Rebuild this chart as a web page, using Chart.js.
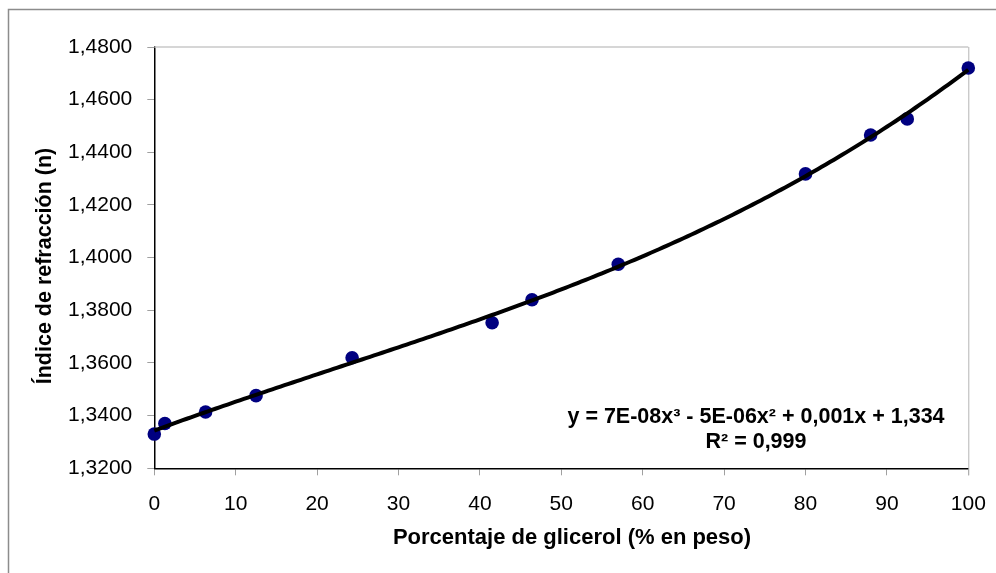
<!DOCTYPE html>
<html>
<head>
<meta charset="utf-8">
<script src="https://cdn.jsdelivr.net/npm/chart.js@4"></script>
<style>
  html, body { margin: 0; padding: 0; background: #fff; }
  #wrap { position: relative; width: 996px; height: 573px; }
</style>
</head>
<body>
<div id="wrap"><canvas id="c" width="996" height="573"></canvas></div>
<script>
// Glycerol content (% by weight) and measured refractive index
const glicerol = [0, 1.3, 6.3, 12.5, 24.3, 41.5, 46.4, 57.0, 80.0, 88.0, 92.5, 100];
const indice   = [1.3330, 1.3370, 1.3414, 1.3476, 1.3620, 1.3753, 1.3840, 1.3975, 1.4318, 1.4466, 1.4527, 1.4720];

const xTicks = [0, 10, 20, 30, 40, 50, 60, 70, 80, 90, 100];
const yTicks = [1.32, 1.34, 1.36, 1.38, 1.40, 1.42, 1.44, 1.46, 1.48];

const xTitle = 'Porcentaje de glicerol (% en peso)';
const yTitle = 'Índice de refracción (n)';
const ecuacion = ['y = 7E-08x³ - 5E-06x² + 0,001x + 1,334', 'R² = 0,999'];

// Least-squares cubic trendline through the measured points
function polyFit(xs, ys, deg) {
  const n = deg + 1;
  const A = Array.from({length: n}, () => new Array(n + 1).fill(0));
  for (let k = 0; k < xs.length; k++) {
    for (let i = 0; i < n; i++) {
      for (let j = 0; j < n; j++) A[i][j] += Math.pow(xs[k], i + j);
      A[i][n] += ys[k] * Math.pow(xs[k], i);
    }
  }
  for (let i = 0; i < n; i++) {
    let p = i;
    for (let r = i + 1; r < n; r++) if (Math.abs(A[r][i]) > Math.abs(A[p][i])) p = r;
    [A[i], A[p]] = [A[p], A[i]];
    for (let r = 0; r < n; r++) {
      if (r === i) continue;
      const f = A[r][i] / A[i][i];
      for (let c = i; c <= n; c++) A[r][c] -= f * A[i][c];
    }
  }
  return A.map((row, i) => row[n] / row[i]);
}
const coef = polyFit(glicerol, indice, 3);
const tendencia = [];
for (let x = 0; x <= 100; x += 0.5) {
  tendencia.push({x, y: coef[0] + coef[1] * x + coef[2] * x * x + coef[3] * x * x * x});
}

const FONT = "'Liberation Sans', Arial, sans-serif";

const extras = {
  id: 'extras',
  beforeDraw(chart) {
    const {ctx} = chart;
    ctx.save();
    ctx.strokeStyle = '#8c8c8c';
    ctx.lineWidth = 1.5;
    ctx.beginPath();
    ctx.moveTo(8.5, 573);
    ctx.lineTo(8.5, 9.5);
    ctx.lineTo(996, 9.5);
    ctx.stroke();
    ctx.restore();
  },
  beforeDatasetsDraw(chart) {
    const {ctx, chartArea: a} = chart;
    ctx.save();
    // upper and right edges of the plot area
    ctx.strokeStyle = '#c8c8c8';
    ctx.lineWidth = 1.5;
    ctx.beginPath();
    ctx.moveTo(a.left, a.top);
    ctx.lineTo(a.right, a.top);
    ctx.stroke();
    ctx.strokeStyle = '#b4b4b4';
    ctx.lineWidth = 1;
    ctx.beginPath();
    ctx.moveTo(a.right + 0.5, a.top);
    ctx.lineTo(a.right + 0.5, a.bottom + 7);
    ctx.stroke();
    ctx.restore();
  },
  afterDatasetsDraw(chart) {
    const {ctx} = chart;
    ctx.save();
    ctx.fillStyle = '#000';
    ctx.textAlign = 'center';
    ctx.textBaseline = 'middle';
    ctx.font = 'bold 22px ' + FONT;
    ctx.fillText(xTitle, 572, 538);
    ctx.save();
    ctx.translate(45, 266);
    ctx.rotate(-Math.PI / 2);
    ctx.font = 'bold 21.5px ' + FONT;
    ctx.fillText(yTitle, 0, 0);
    ctx.restore();

    ctx.font = 'bold 21.5px ' + FONT;
    ctx.fillText(ecuacion[0], 756, 417);
    ctx.fillText(ecuacion[1], 756, 442);
    ctx.restore();
  }
};

new Chart(document.getElementById('c'), {
  type: 'scatter',
  data: {
    datasets: [
      {
        label: 'Tendencia',
        data: tendencia,
        showLine: true,
        borderColor: '#000',
        borderWidth: 4,
        pointRadius: 0,
        fill: false,
        clip: false,
        order: 0
      },
      {
        label: 'Índice de refracción',
        data: glicerol.map((x, i) => ({x, y: indice[i]})),
        backgroundColor: '#000080',
        borderColor: '#000080',
        pointRadius: 6.8,
        pointBorderWidth: 0,
        clip: false,
        order: 1
      }
    ]
  },
  options: {
    responsive: false,
    animation: false,
    layout: {padding: {left: 0, top: 47, right: 27.7, bottom: 0}},
    plugins: {legend: {display: false}, tooltip: {enabled: false}},
    scales: {
      x: {
        type: 'linear',
        min: 0, max: 100,
        afterBuildTicks: s => { s.ticks = xTicks.map(v => ({value: v})); },
        afterFit: s => { s.height = 104.7; s.paddingLeft = 0; s.paddingRight = 0; },
        ticks: {
          color: '#000',
          font: {family: FONT, size: 21},
          padding: 16,
          maxRotation: 0,
          callback: v => String(v)
        },
        grid: {drawOnChartArea: false, drawTicks: true, tickLength: 7, color: '#a0a0a0'},
        border: {display: true, color: '#000', width: 1.5}
      },
      y: {
        type: 'linear',
        min: 1.32, max: 1.48,
        afterBuildTicks: s => { s.ticks = yTicks.map(v => ({value: v})); },
        afterFit: s => { s.width = 154.3; s.paddingTop = 0; s.paddingBottom = 0; },
        ticks: {
          color: '#000',
          font: {family: FONT, size: 21},
          padding: 15,
          callback: v => v.toFixed(4).replace('.', ',')
        },
        grid: {drawOnChartArea: false, drawTicks: true, tickLength: 7, color: '#a0a0a0'},
        border: {display: true, color: '#000', width: 1.5}
      }
    }
  },
  plugins: [extras]
});
</script>
</body>
</html>
